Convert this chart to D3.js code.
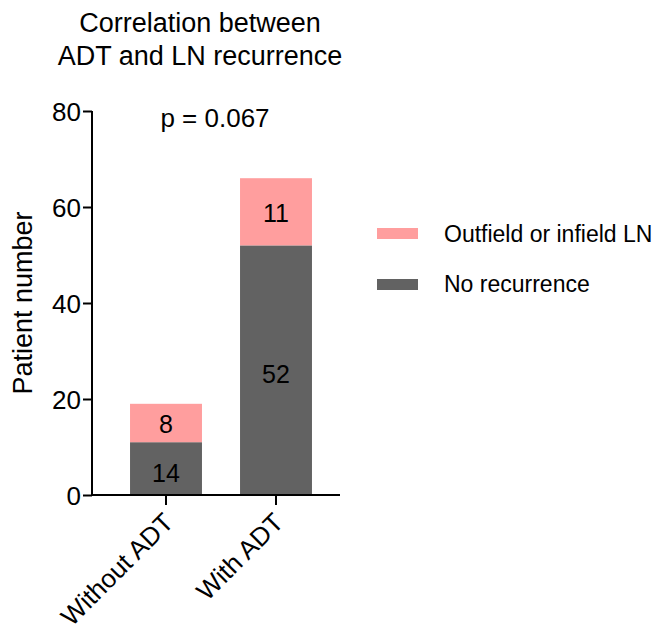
<!DOCTYPE html>
<html><head><meta charset="utf-8">
<script src="https://cdn.jsdelivr.net/npm/d3@7"></script>
<style>body{margin:0;background:#fff}svg{display:block}text{font-family:"Liberation Sans",Arial,sans-serif;fill:#000}</style>
</head><body><svg id="c" width="659" height="629"></svg>
<script>
const categories = ["Without ADT", "With ADT"];
const noRecurrence = [11, 52];
const lnRecurrence = [8, 14];
const noRecurrenceLabels = ["14", "52"];
const lnRecurrenceLabels = ["8", "11"];
const seriesNames = ["Outfield or infield LN", "No recurrence"];
const yTicks = [0, 20, 40, 60, 80];
const pText = "p = 0.067";
const titleLines = ["Correlation between", "ADT and LN recurrence"];

const svg = d3.select("#c");
const colPink = "#FF9E9E", colDark = "#626262";
const FF = '"Liberation Sans",Arial,sans-serif';
const x = d3.scaleBand().domain(categories).range([111, 331]).paddingInner(0.346).paddingOuter(0.173);
const y = d3.scaleLinear().domain([0, 80]).range([495, 111]);

// bars
const g = svg.append("g");
g.selectAll("rect.dark").data(categories).enter().append("rect")
  .attr("x", d => x(d)).attr("width", x.bandwidth())
  .attr("y", (d,i) => y(noRecurrence[i])).attr("height", (d,i) => y(0) - y(noRecurrence[i]))
  .attr("fill", colDark);
g.selectAll("rect.pink").data(categories).enter().append("rect")
  .attr("x", d => x(d)).attr("width", x.bandwidth())
  .attr("y", (d,i) => y(noRecurrence[i] + lnRecurrence[i])).attr("height", (d,i) => y(0) - y(lnRecurrence[i]))
  .attr("fill", colPink);
g.selectAll("text.dl").data(categories).enter().append("text")
  .attr("x", d => x(d) + x.bandwidth()/2)
  .attr("y", (d,i) => (y(0) + y(noRecurrence[i]))/2 + 13)
  .attr("text-anchor", "middle").style("font-size", "25px")
  .text((d,i) => noRecurrenceLabels[i]);
g.selectAll("text.pl").data(categories).enter().append("text")
  .attr("x", d => x(d) + x.bandwidth()/2)
  .attr("y", (d,i) => (y(noRecurrence[i]) + y(noRecurrence[i] + lnRecurrence[i]))/2 + 10)
  .attr("text-anchor", "middle").style("font-size", "25px")
  .text((d,i) => lnRecurrenceLabels[i]);

// axes
const ya = svg.append("g").attr("transform", "translate(92,0)")
  .call(d3.axisLeft(y).tickValues(yTicks).tickSize(9).tickPadding(2));
ya.select(".domain").attr("stroke-width", 2).attr("d", "M0," + y(80) + "H-0V" + y(0));
ya.selectAll(".tick line").attr("stroke-width", 2);
ya.selectAll(".tick text").style("font-size", "26px").style("font-family", FF).attr("fill", "#000").attr("dy", "0.36em");

const xa = svg.append("g").attr("transform", "translate(0,495)")
  .call(d3.axisBottom(x).tickSize(10).tickSizeOuter(0));
xa.select(".domain").attr("stroke-width", 2).attr("d", "M91,0H340");
xa.selectAll(".tick line").attr("stroke-width", 2);
xa.selectAll(".tick text").style("font-size", "26px").style("font-family", FF).attr("fill", "#000")
  .attr("text-anchor", "end").attr("dy", null).attr("y", null)
  .attr("transform", "translate(9,29) rotate(-45)");

// y label
svg.append("text").attr("transform", "translate(32,303) rotate(-90)")
  .attr("text-anchor", "middle").style("font-size", "27px").text("Patient number");

// title
svg.selectAll("text.title").data(titleLines).enter().append("text")
  .attr("x", 200).attr("y", (d,i) => 32 + i*33).attr("text-anchor", "middle")
  .style("font-size", "27px").text(d => d);

svg.append("text").attr("x", 215).attr("y", 127).attr("text-anchor", "middle")
  .style("font-size", "26px").text(pText);

// legend
const lg = svg.append("g");
seriesNames.forEach((s, i) => {
  lg.append("rect").attr("x", 377).attr("y", 228 + i*51).attr("width", 41).attr("height", 11)
    .attr("fill", i === 0 ? colPink : colDark);
  lg.append("text").attr("x", 444).attr("y", 242 + i*50).style("font-size", "23px").text(s);
});
</script></body></html>
